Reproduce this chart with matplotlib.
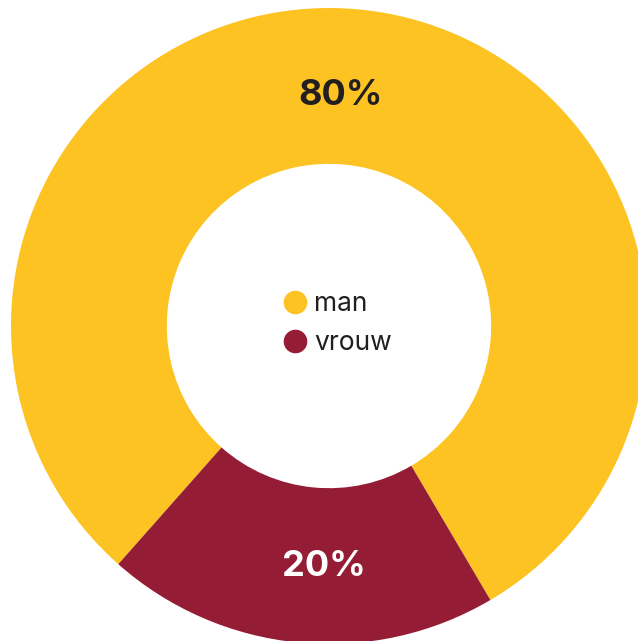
import matplotlib.pyplot as plt
from matplotlib.lines import Line2D

# Data
labels = ["man", "vrouw"]
shares = [80, 20]
colors = ["#FDC323", "#951C35"]
pct_colors = ["#231F20", "#FFFFFF"]

plt.rcParams['font.family'] = ['Inter', 'DejaVu Sans']

fig = plt.figure(figsize=(6.38, 6.41), dpi=100)
ax = fig.add_axes([0, 0, 1, 1])

wedges, _ = ax.pie(shares, colors=colors, startangle=300.5, counterclock=True,
                   radius=1.0, wedgeprops=dict(width=0.49, linewidth=0))

# Percentage labels
pct_pos = [(0.035, 0.725), (-0.015, -0.755)]
for val, (x, y), c in zip(shares, pct_pos, pct_colors):
    ax.text(x, y, f"{val}%", ha="center", va="center", fontsize=26,
            fontweight="bold", color=c)

# Legend in the hole
handles = [Line2D([], [], marker="o", linestyle="", markersize=17,
                  markerfacecolor=c, markeredgewidth=0) for c in colors]
ax.legend(handles, labels, loc="center", bbox_to_anchor=(0.532, 0.495),
          frameon=False, fontsize=19, handlelength=0.65, handletextpad=0.4,
          labelspacing=0.5, labelcolor="#231F20")

# Fix scale so the ring sits like in the reference (partly clipped right/bottom)
ax.set_xlim(-329 / 318, (638 - 329) / 318)
ax.set_ylim(-(641 - 326) / 318, 326 / 318)
ax.set_aspect("auto")
ax.axis("off")

fig.savefig("out.png", dpi=100)
